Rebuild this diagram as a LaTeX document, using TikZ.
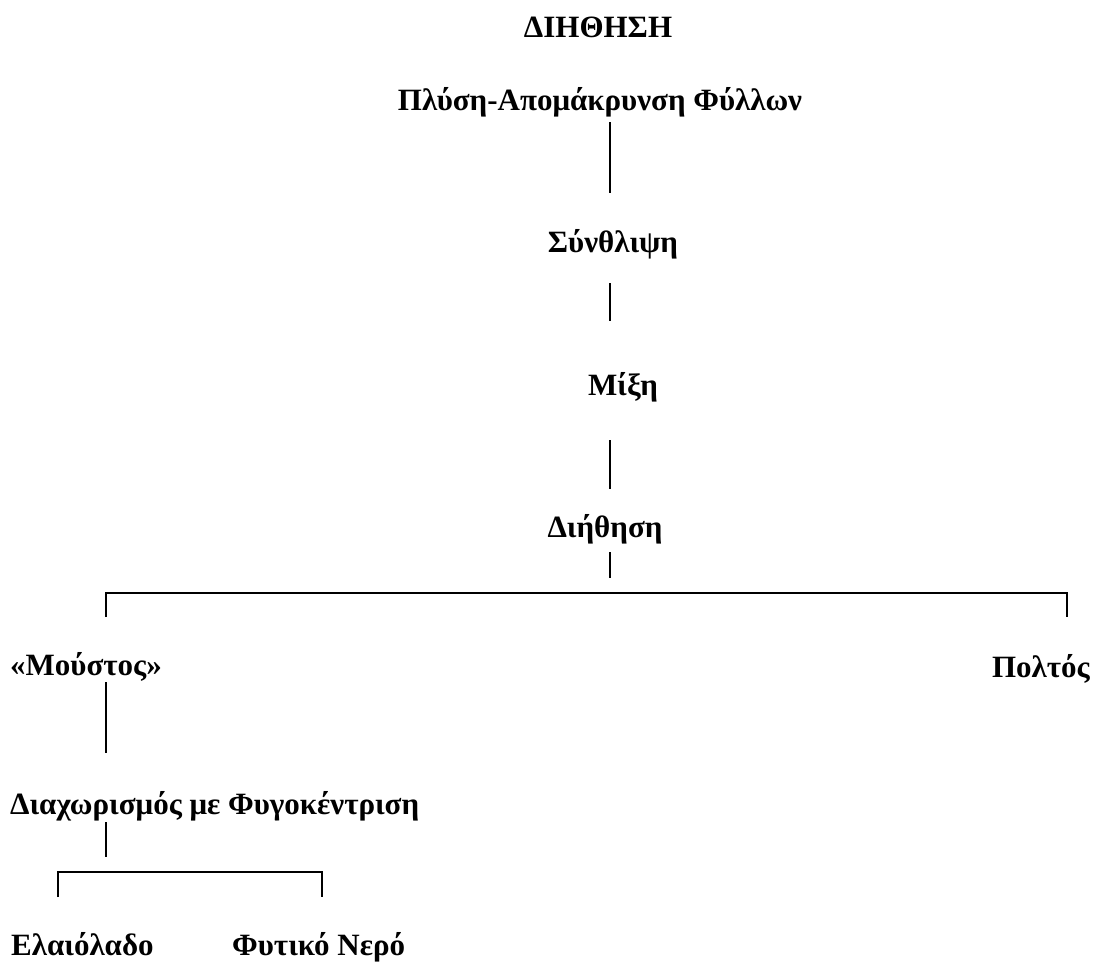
\documentclass[tikz,border=0pt]{standalone}
\usepackage{fontspec}
\setmainfont{Liberation Serif}
\begin{document}
\begin{tikzpicture}[x=1pt,y=-1pt,
  lbl/.style={inner sep=0pt, font=\fontsize{31}{37}\selectfont\bfseries},
  conn/.style={line width=1.4pt, draw=black}]
\useasboundingbox (0,0) rectangle (1094,970);
% labels
\node[lbl, anchor=base] (title) at (598,37) {ΔΙΗΘΗΣΗ};
\node[lbl, anchor=base] (wash) at (600,110) {Πλύση-Απομάκρυνση Φύλλων};
\node[lbl, anchor=base] (crush) at (613,252) {Σύνθλιψη};
\node[lbl, anchor=base] (mix) at (623,395) {Μίξη};
\node[lbl, anchor=base] (filt) at (605,537) {Διήθηση};
\node[lbl, anchor=base west] (must) at (10,675) {«Μούστος»};
\node[lbl, anchor=base east] (pulp) at (1090,677) {Πολτός};
\node[lbl, anchor=base west] (sep) at (10,814) {Διαχωρισμός με Φυγοκέντριση};
\node[lbl, anchor=base west] (oil) at (11,955) {Ελαιόλαδο};
\node[lbl, anchor=base west] (water) at (232,955) {Φυτικό Νερό};
% connector end points
\coordinate (a1) at (610,122); \coordinate (a2) at (610,193);
\coordinate (b1) at (610,283); \coordinate (b2) at (610,321);
\coordinate (c1) at (610,440); \coordinate (c2) at (610,489);
\coordinate (d1) at (610,552); \coordinate (d2) at (610,578);
\coordinate (hL) at (106,593); \coordinate (hR) at (1067,593);
\coordinate (hLd) at (106,617); \coordinate (hRd) at (1067,617);
\coordinate (e1) at (106,682); \coordinate (e2) at (106,753);
\coordinate (f1) at (106,822); \coordinate (f2) at (106,857);
\coordinate (gL) at (58,872); \coordinate (gR) at (322,872);
\coordinate (gLd) at (58,897); \coordinate (gRd) at (322,897);
% connectors
\draw[conn] (a1) -- (a2);
\draw[conn] (b1) -- (b2);
\draw[conn] (c1) -- (c2);
\draw[conn] (d1) -- (d2);
\draw[conn] (hLd) -- (hL) -- (hR) -- (hRd);
\draw[conn] (e1) -- (e2);
\draw[conn] (f1) -- (f2);
\draw[conn] (gLd) -- (gL) -- (gR) -- (gRd);
\end{tikzpicture}
\end{document}
